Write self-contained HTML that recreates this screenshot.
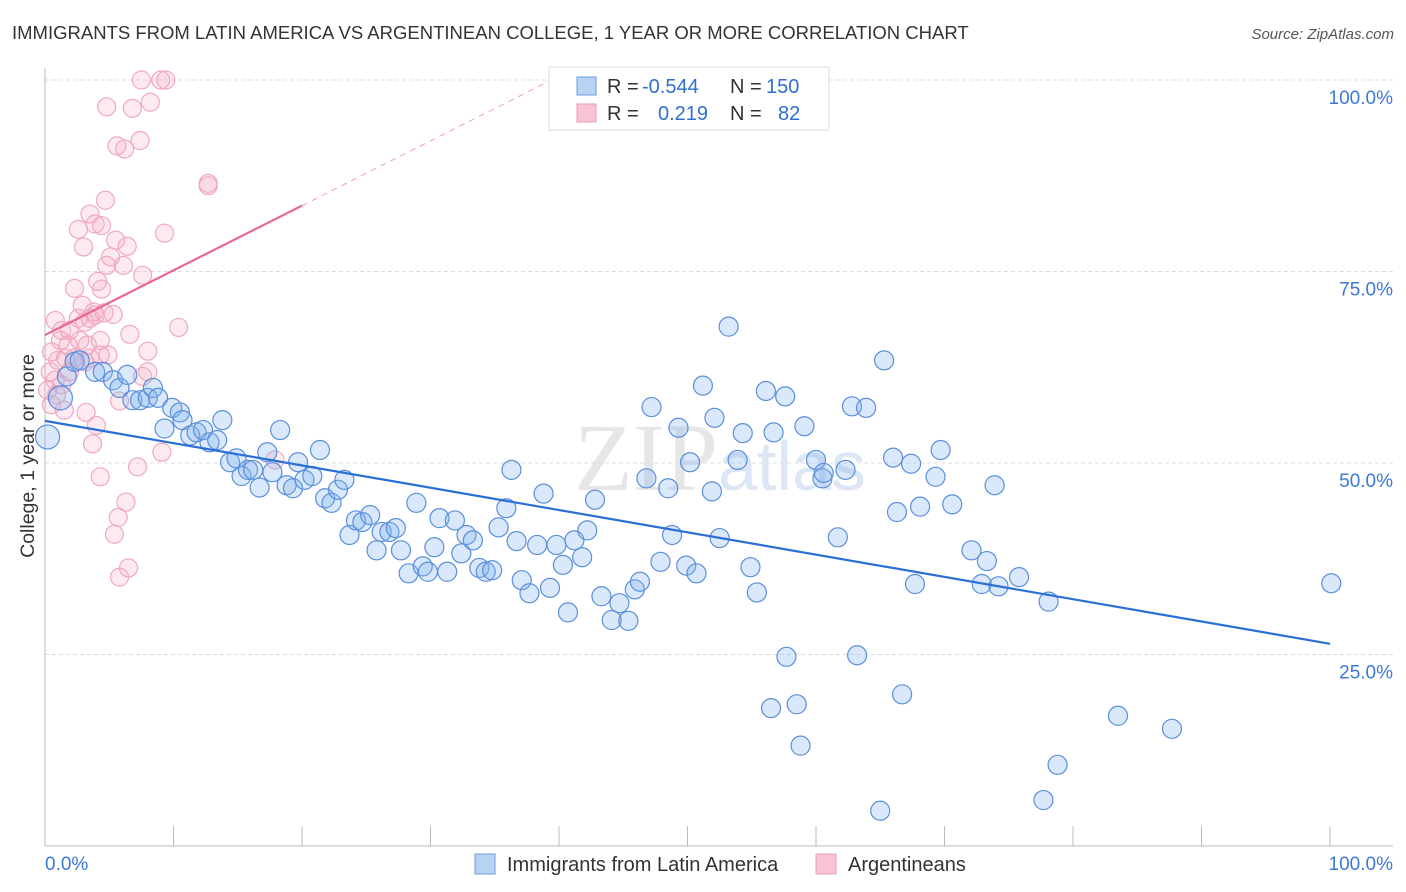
<!DOCTYPE html>
<html><head><meta charset="utf-8"><style>
body{margin:0;background:#fff;font-family:"Liberation Sans",sans-serif;}
#wrap{position:relative;width:1406px;height:892px;overflow:hidden;}
</style></head><body>
<div id="wrap">
<svg id="svg" width="1406" height="892" xmlns="http://www.w3.org/2000/svg">
<text x="12" y="39" font-size="18.5" fill="#333">IMMIGRANTS FROM LATIN AMERICA VS ARGENTINEAN COLLEGE, 1 YEAR OR MORE CORRELATION CHART</text>
<text x="1394" y="39" font-size="15" fill="#555" font-style="italic" text-anchor="end">Source: ZipAtlas.com</text>
<text x="720" y="490" font-size="96" fill="#e6e6e6" text-anchor="middle" font-family="Liberation Serif,serif">ZIP<tspan fill="#dce6f5" font-family="Liberation Sans,sans-serif" font-size="70">atlas</tspan></text>
<g id="grid"></g>
<g id="pts"></g>
<g id="lines"></g>
<text transform="translate(34,456) rotate(-90)" font-size="19.5" fill="#333" text-anchor="middle">College, 1 year or more</text>
<g>
<rect x="549" y="67" width="280" height="63" fill="#fff" stroke="#ddd"/>
<rect x="577" y="77" width="19" height="18" fill="#b8d2f4" stroke="#6a9be0"/>
<rect x="577" y="104" width="19" height="18" fill="#f8c4d4" stroke="#ec9ab6"/>
<text x="607" y="93" font-size="20" fill="#333">R = <tspan x="642" fill="#2f6fd0">-0.544</tspan><tspan x="730">N = </tspan><tspan x="766" fill="#2f6fd0">150</tspan></text>
<text x="607" y="120" font-size="20" fill="#333">R = <tspan x="658" fill="#2f6fd0">0.219</tspan><tspan x="730">N = </tspan><tspan x="778" fill="#2f6fd0">82</tspan></text>
</g>
<g>
<rect x="475" y="854" width="20" height="20" fill="#b8d2f4" stroke="#6a9be0"/>
<text x="507" y="871" font-size="20" fill="#333">Immigrants from Latin America</text>
<rect x="816" y="854" width="20" height="20" fill="#f8c4d4" stroke="#ec9ab6"/>
<text x="848" y="871" font-size="20" fill="#333">Argentineans</text>
</g>
</svg>
</div>
<script>
const yTicks=[100,75,50,25];
const yTickLabels=["100.0%","75.0%","50.0%","25.0%"];
const xTickLabels=["0.0%","100.0%"];
const blueX=[0.2,1.2,1.7,2.3,2.7,3.9,4.5,5.3,5.8,6.4,6.8,7.4,8.0,8.4,8.8,9.3,9.9,10.5,10.7,11.3,11.8,12.3,12.8,13.4,13.8,14.4,14.9,15.3,15.8,16.2,16.7,17.3,17.7,18.3,18.8,19.3,19.7,20.2,20.8,21.4,21.8,22.3,22.8,23.3,23.7,24.2,24.7,25.3,25.8,26.2,26.8,27.3,27.7,28.3,28.9,29.4,29.8,30.3,30.7,31.3,31.9,32.4,32.8,33.3,33.8,34.3,34.8,35.3,35.9,36.3,36.7,37.1,37.7,38.3,38.8,39.3,39.8,40.3,40.7,41.2,41.8,42.2,42.8,43.3,44.1,44.7,45.4,45.9,46.3,46.8,47.2,47.9,48.5,48.8,49.3,49.9,50.2,50.7,51.2,51.9,52.1,52.5,53.2,53.9,54.3,54.9,55.4,56.1,56.5,56.7,57.6,57.7,58.5,58.8,59.1,60.0,60.5,60.6,61.7,62.3,62.8,63.2,63.9,65.3,66.0,66.3,66.7,67.4,67.7,68.1,69.3,69.7,70.6,72.1,72.9,73.3,74.2,73.9,75.8,78.1,77.7,78.8,83.5,87.7,100.1,65.0];
const blueY=[53.4,58.5,61.3,63.2,63.4,61.9,61.9,60.8,59.8,61.5,58.2,58.2,58.5,59.8,58.5,54.5,57.2,56.6,55.6,53.6,54.0,54.3,52.7,53.0,55.6,50.1,50.6,48.3,49.1,49.1,46.8,51.4,48.8,54.3,47.1,46.7,50.1,47.8,48.3,51.7,45.4,44.8,46.5,47.8,40.6,42.5,42.3,43.2,38.6,41.0,41.0,41.5,38.6,35.6,44.8,36.5,35.8,39.0,42.8,35.8,42.5,38.2,40.6,39.9,36.3,35.8,36.0,41.6,44.1,49.1,39.8,34.7,33.0,39.3,46.0,33.7,39.3,36.7,30.5,39.9,37.7,41.2,45.2,32.6,29.5,31.7,29.4,33.5,34.5,48.0,57.3,37.1,46.7,40.6,54.6,36.6,50.1,35.6,60.1,46.3,55.9,40.2,67.8,50.4,53.9,36.4,33.1,59.4,18.0,54.0,58.7,24.7,18.5,13.1,54.8,50.4,48.0,48.7,40.3,49.1,57.4,24.9,57.2,63.4,50.7,43.6,19.8,49.9,34.2,44.3,48.2,51.7,44.6,38.6,34.2,37.2,33.9,47.1,35.1,31.9,6.0,10.6,17.0,15.3,34.3,4.6];
const pinkX=[7.5,9.0,9.4,4.8,6.8,8.2,5.6,6.2,7.4,12.7,12.7,4.7,3.5,3.9,4.4,2.6,3.0,5.5,6.4,9.3,5.1,4.8,6.1,7.6,4.1,4.4,2.3,5.3,6.6,10.4,8.0,8.0,7.6,5.8,3.2,4.0,3.7,9.1,7.2,4.3,6.3,5.7,5.4,6.5,5.8,17.9,0.8,1.3,1.9,2.6,3.1,3.5,3.9,1.2,1.8,2.7,3.3,4.3,0.5,1.0,1.6,2.3,3.1,3.5,0.4,0.8,1.3,1.9,0.2,0.9,0.5,1.5,4.3,4.9,2.9,3.8,4.6];
const pinkY=[100,100,100,96.5,96.3,97.1,91.4,91.0,92.1,86.5,86.2,84.3,82.5,81.2,81.0,80.5,78.2,79.1,78.3,80.0,76.9,75.8,75.8,74.5,73.7,72.7,72.8,69.4,66.8,67.7,64.6,61.9,61.3,58.1,56.6,54.9,52.5,51.4,49.5,48.2,44.9,42.9,40.7,36.3,35.1,50.4,68.6,67.3,67.3,68.9,68.4,68.9,69.3,66.0,65.4,66.0,65.4,66.0,64.5,63.4,63.7,63.7,63.2,63.7,61.9,60.8,60.2,61.9,59.5,58.9,57.6,56.9,64.1,64.1,70.6,69.7,69.6];
const blueTrend=[55.5,26.4];
const pinkTrend=[66.7,83.6,20];

const NS="http://www.w3.org/2000/svg";
const X0=45,X1=1330,Y0=846,Y100=80;
const xs=v=>X0+(X1-X0)*v/100;
const ys=v=>Y0-(Y0-Y100)*v/100;
function mk(tag,attrs,parent){const e=document.createElementNS(NS,tag);for(const k in attrs)e.setAttribute(k,attrs[k]);parent.appendChild(e);return e;}
const grid=document.getElementById('grid');
yTicks.forEach((t,i)=>{
  const l=mk('line',{x1:X0,x2:1393,y1:ys(t),y2:ys(t),stroke:'#ddd','stroke-dasharray':'4,3'},grid);
  
  
  const tx=mk('text',{x:1393,y:ys(t)+24,'font-size':19,fill:'#3b78d8','text-anchor':'end'},grid);
  tx.textContent=yTickLabels[i];
  
  
});
const ax=mk('line',{x1:X0,x2:X0,y1:68,y2:Y0,stroke:'#bbb'},grid);


const bx=mk('line',{x1:X0,x2:1393,y1:Y0,y2:Y0,stroke:'#bbb'},grid);


for(let i=0;i<=10;i++){
  const t=mk('line',{x1:xs(i*10),x2:xs(i*10),y1:Y0,y2:Y0-20,stroke:'#bbb'},grid);
  
  
}
[[0,'start',X0],[100,'end',1393]].forEach((d,i)=>{
  const tx=mk('text',{x:d[2],y:870,'font-size':19,fill:'#3b78d8','text-anchor':d[1]},grid);
  tx.textContent=xTickLabels[i];
  
  
});
const pts=document.getElementById('pts');
pinkX.forEach((x,i)=>{
  const c=mk('circle',{cx:xs(x),cy:ys(pinkY[i]),r:9,fill:'rgba(244,170,195,0.25)',stroke:'#f0a8c0','stroke-width':1.2},pts);
  
  
});
blueX.forEach((x,i)=>{
  const c=mk('circle',{cx:xs(x),cy:ys(blueY[i]),r:(i<2?12:9.5),fill:'rgba(130,178,238,0.3)',stroke:'#5b8fdc','stroke-width':1.2},pts);
  
  
});
const lines=document.getElementById('lines');
const bl=mk('line',{x1:xs(0),y1:ys(blueTrend[0]),x2:xs(100),y2:ys(blueTrend[1]),stroke:'#2a6fd6','stroke-width':2.2},lines);


const slope=(pinkTrend[1]-pinkTrend[0])/pinkTrend[2];
const pl=mk('line',{x1:xs(0),y1:ys(pinkTrend[0]),x2:xs(pinkTrend[2]),y2:ys(pinkTrend[1]),stroke:'#e86892','stroke-width':2.2},lines);


const xEnd=(100-pinkTrend[0])/slope;
const pd=mk('line',{x1:xs(pinkTrend[2]),y1:ys(pinkTrend[1]),x2:xs(xEnd),y2:ys(100),stroke:'#f0a0b8','stroke-width':1,'stroke-dasharray':'6,5'},lines);


</script>
</body></html>
